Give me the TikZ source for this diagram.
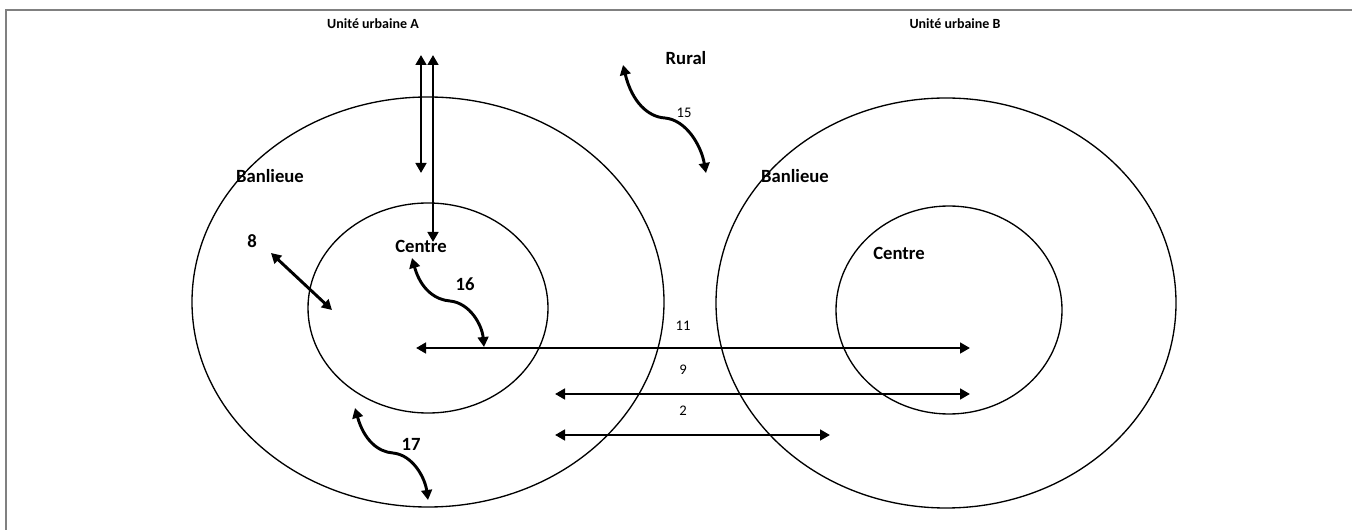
\documentclass[tikz,border=0pt]{standalone}
\usepackage{fontspec}
\setmainfont{Carlito}
\usetikzlibrary{arrows.meta}
\begin{document}
\begin{tikzpicture}[x=0.75pt,y=-0.75pt,
  ring/.style={draw, line width=1pt},
  frameline/.style={draw=black!50, line width=1.5pt},
  flow/.style={line width=2.2pt, {Triangle[length=7.5pt,width=8pt]}-{Triangle[length=7.5pt,width=8pt]}},
  head/.style={font=\bfseries\fontsize{10.5}{12}\selectfont, inner sep=0pt},
  lbl/.style={font=\bfseries\fontsize{14}{16}\selectfont, inner sep=0pt},
  num/.style={font=\fontsize{11}{13}\selectfont, inner sep=0pt}]
\useasboundingbox (0,0) rectangle (1352,530);
% frame
\draw[frameline] (5,10) -- (1352,10);
\draw[frameline] (6,10) -- (6,530);
% ellipses
\draw[ring] (428,302) ellipse [x radius=236, y radius=205];
\draw[ring] (428,308) ellipse [x radius=120, y radius=105];
\draw[ring] (946,303) ellipse [x radius=230, y radius=205];
\draw[ring] (949,310) ellipse [x radius=113, y radius=104];
% labels
\node[head] (uA) at (373,24) {Unité urbaine A};
\node[head] (uB) at (955,24) {Unité urbaine B};
\node[lbl] (rural) at (686,58) {Rural};
\node[lbl] (banA) at (270,176) {Banlieue};
\node[lbl] (banB) at (795,176) {Banlieue};
\node[lbl] (cenA) at (421,246) {Centre};
\node[lbl] (cenB) at (899,253) {Centre};
\node[lbl] (n8) at (252,241) {8};
\node[lbl] (n16) at (465,284) {16};
\node[lbl] (n17) at (411,444) {17};
\node[num] (n15) at (684,113) {15};
\node[num] (n11) at (683,326) {11};
\node[num] (n9) at (683,370) {9};
\node[num] (n2) at (683,411) {2};
% arrow end points
\coordinate (v1t) at (421,55);  \coordinate (v1b) at (421,173);
\coordinate (v2t) at (433,55);  \coordinate (v2b) at (433,242);
\coordinate (r1) at (623,65);   \coordinate (r2) at (706,173);
\coordinate (s1) at (412,258);  \coordinate (s2) at (484,347);
\coordinate (t1) at (355,408);  \coordinate (t2) at (428,500);
\coordinate (e1) at (271,253);  \coordinate (e2) at (332,310);
\coordinate (a11l) at (416,348); \coordinate (a11r) at (970,348);
\coordinate (a9l) at (555,394);  \coordinate (a9r) at (970,394);
\coordinate (a2l) at (555,435);  \coordinate (a2r) at (830,435);
% arrows
\draw[flow] (v1t) -- (v1b);
\draw[flow] (v2t) -- (v2b);
\draw[flow] (e1) -- (e2);
\draw[flow] (a11l) -- (a11r);
\draw[flow] (a9l) -- (a9r);
\draw[flow] (a2l) -- (a2r);
\draw[flow] (r1) .. controls (632,102) and (648,117) .. (665,118)
                 .. controls (686,120) and (701,145) .. (r2);
\draw[flow] (s1) .. controls (421,290) and (436,300) .. (450,301)
                 .. controls (470,303) and (482,325) .. (s2);
\draw[flow] (t1) .. controls (364,440) and (378,452) .. (393,453)
                 .. controls (413,455) and (425,478) .. (t2);
\end{tikzpicture}
\end{document}
